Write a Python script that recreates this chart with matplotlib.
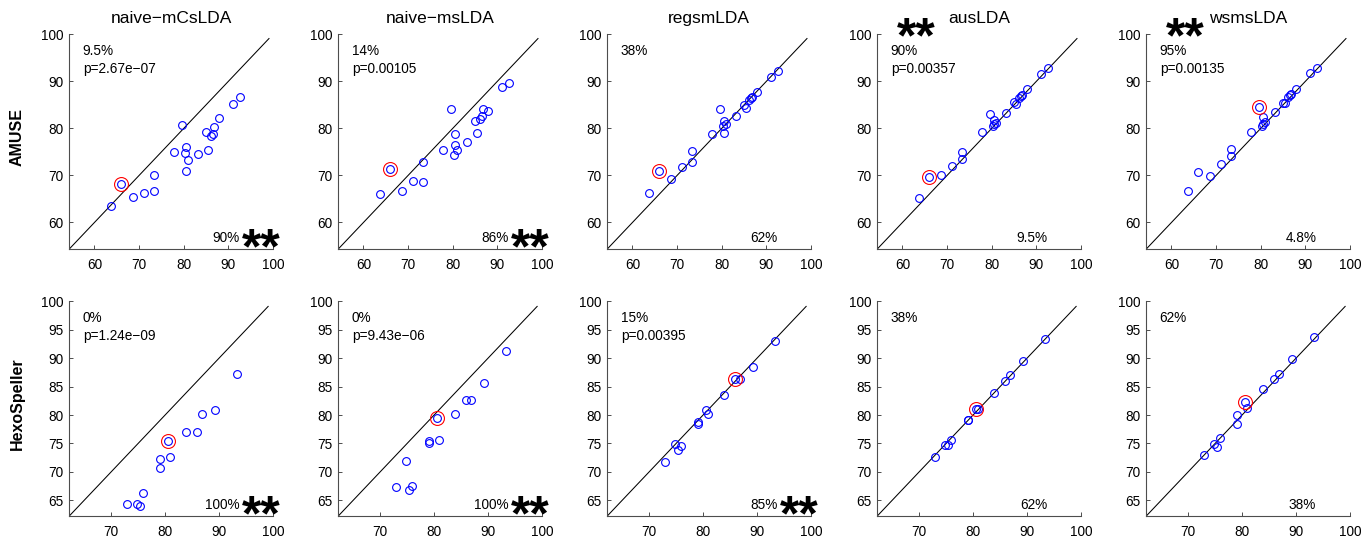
import matplotlib
matplotlib.use("Agg")
import matplotlib.pyplot as plt

plt.rcParams["font.family"] = ["Liberation Sans", "DejaVu Sans"]

methods = ["naive−mCsLDA", "naive−msLDA", "regsmLDA", "ausLDA", "wsmsLDA"]
datasets = ["AMUSE", "HexoSpeller"]

# baseline accuracy (x) per subject, shared within a dataset row
amuse_x = [63.6, 66.0, 68.7, 71.1, 73.3, 73.3, 77.8, 79.6, 80.3, 80.5, 80.5,
           81.0, 83.1, 85.1, 85.4, 86.2, 86.6, 86.8, 88.0, 91.1, 92.7]
hexo_x = [72.9, 74.85, 75.3, 76.0, 79.1, 79.15, 80.5, 81.0, 83.9, 86.0, 86.8,
          89.3, 93.4]

# method accuracy (y)
amuse_mcslda = [63.4, 68.2, 65.5, 66.3, 66.6, 70.0, 75.0, 80.8, 74.8, 76.0, 71.0,
                73.2, 74.5, 79.3, 75.5, 78.4, 78.8, 80.4, 82.3, 85.2, 86.7]
amuse_mslda = [66.1, 71.4, 66.7, 68.9, 68.65, 72.8, 75.5, 84.2, 74.3, 78.9, 76.5,
               75.5, 77.1, 81.5, 79.1, 82.1, 82.6, 84.2, 83.8, 88.7, 89.6]
amuse_regsmlda = [66.3, 71.0, 69.3, 71.7, 72.9, 75.3, 78.8, 84.2, 80.5, 79.0, 81.5,
                  81.0, 82.6, 85.0, 84.3, 86.0, 86.4, 86.65, 87.8, 91.0, 92.3]
amuse_auslda = [65.3, 69.6, 70.1, 71.9, 73.6, 75.0, 79.3, 83.0, 80.5, 80.9, 81.7,
                81.2, 83.3, 85.7, 85.2, 86.5, 86.9, 87.1, 88.3, 91.5, 92.8]
amuse_wsmslda = [66.75, 70.8, 69.9, 72.4, 74.1, 75.7, 79.3, 84.5, 80.5, 80.9, 82.4,
                 81.4, 83.5, 85.5, 85.4, 86.7, 87.0, 87.35, 88.4, 91.7, 92.9]

hexo_mcslda = [64.4, 64.4, 64.0, 66.3, 70.7, 72.3, 75.5, 72.6, 77.1, 77.0, 80.1,
               80.9, 87.2]
hexo_mslda = [67.4, 71.9, 66.9, 67.5, 75.0, 75.5, 79.4, 75.7, 80.1, 82.7, 82.6,
              85.65, 91.25]
hexo_regsmlda = [71.7, 74.9, 73.8, 74.5, 78.4, 78.7, 80.9, 80.2, 83.55, 86.3, 86.35,
                 88.5, 93.1]
hexo_auslda = [72.6, 74.8, 74.7, 75.7, 79.1, 79.2, 81.0, 81.0, 83.85, 85.9, 87.05,
               89.55, 93.4]
hexo_wsmslda = [72.9, 74.9, 74.45, 75.9, 78.4, 80.0, 82.3, 81.2, 84.5, 86.3, 87.3,
                89.9, 93.8]

# highlighted subject per panel
amuse_marked = [1, 1, 1, 1, 7]
hexo_marked = [6, 6, 9, 6, 6]

# percentages above / below the diagonal and p-values
amuse_upper = ["9.5%\np=2.67e−07", "14%\np=0.00105", "38%",
               "90%\np=0.00357", "95%\np=0.00135"]
amuse_lower = ["90%", "86%", "62%", "9.5%", "4.8%"]
hexo_upper = ["0%\np=1.24e−09", "0%\np=9.43e−06", "15%\np=0.00395", "38%", "62%"]
hexo_lower = ["100%", "100%", "85%", "62%", "38%"]

# where the significance stars go: None, "lower" or "upper"
amuse_stars = ["lower", "lower", None, "upper", "upper"]
hexo_stars = ["lower", "lower", "lower", None, None]

amuse_ticks = [60, 70, 80, 90, 100]
hexo_xticks = [70, 80, 90, 100]
hexo_yticks = [65, 70, 75, 80, 85, 90, 95, 100]

rows = [
    dict(x=amuse_x, ys=[amuse_mcslda, amuse_mslda, amuse_regsmlda, amuse_auslda,
                        amuse_wsmslda],
         marked=amuse_marked, upper=amuse_upper, lower=amuse_lower,
         stars=amuse_stars, lim=(54.3, 100), xticks=amuse_ticks,
         yticks=amuse_ticks),
    dict(x=hexo_x, ys=[hexo_mcslda, hexo_mslda, hexo_regsmlda, hexo_auslda,
                       hexo_wsmslda],
         marked=hexo_marked, upper=hexo_upper, lower=hexo_lower,
         stars=hexo_stars, lim=(62.2, 100), xticks=hexo_xticks,
         yticks=hexo_yticks),
]

W, H = 1369, 537
lefts = [69, 338, 607, 877, 1146]
tops = [34.3, 301.3]
ax_w, ax_h = 204, 215
diag_hi = 99.1

fig = plt.figure(figsize=(W / 100, H / 100), dpi=100)

for r, row in enumerate(rows):
    for c in range(5):
        ax = fig.add_axes([lefts[c] / W, 1 - (tops[r] + ax_h) / H,
                           ax_w / W, ax_h / H])
        lo, hi = row["lim"]
        x = row["x"]
        y = row["ys"][c]
        m = row["marked"][c]

        ax.plot([lo, diag_hi], [lo, diag_hi], color="black", lw=0.75)
        ax.plot(x, y, "o", mfc="none", mec="blue", ms=5.6, mew=0.8)
        ax.plot(x[m], y[m], "o", mfc="none", mec="red", ms=10, mew=0.8)

        ax.set_xlim(lo, hi)
        ax.set_ylim(lo, hi)
        ax.set_xticks(row["xticks"])
        ax.set_yticks(row["yticks"])

        # matlab-ish box off
        ax.spines["top"].set_visible(False)
        ax.spines["right"].set_visible(False)
        for s in ("left", "bottom"):
            ax.spines[s].set_color("0.3")
            ax.spines[s].set_linewidth(0.8)
        ax.tick_params(direction="in", length=3, width=0.7, color="0.3",
                       labelsize=9.8, pad=4)
        ax.tick_params(axis="x", pad=6)

        if r == 0:
            ax.set_title(methods[c], fontsize=12.5, pad=8)

        lines = row["upper"][c].split("\n")
        ax.text(0.067, 0.904, lines[0], transform=ax.transAxes, fontsize=9.8,
                va="baseline")
        if len(lines) > 1:
            ax.text(0.067, 0.821, lines[1], transform=ax.transAxes,
                    fontsize=9.8, va="baseline")
        ax.text(0.835, 0.033, row["lower"][c], transform=ax.transAxes,
                fontsize=9.8, ha="right", va="baseline")

        st = row["stars"][c]
        if st == "lower":
            ax.text(0.85, -0.065, "**", transform=ax.transAxes, fontsize=36,
                    fontweight="bold", va="baseline", clip_on=False)
        elif st == "upper":
            ax.text(0.1, 0.918, "**", transform=ax.transAxes, fontsize=36,
                    fontweight="bold", va="baseline", clip_on=False)

for r, name in enumerate(datasets):
    yc = 1 - (tops[r] + ax_h / 2 - 5) / H
    fig.text(17 / W, yc, name, rotation=90, fontsize=11.5, fontweight="bold",
             ha="center", va="center")

fig.savefig("out.png", dpi=100)
